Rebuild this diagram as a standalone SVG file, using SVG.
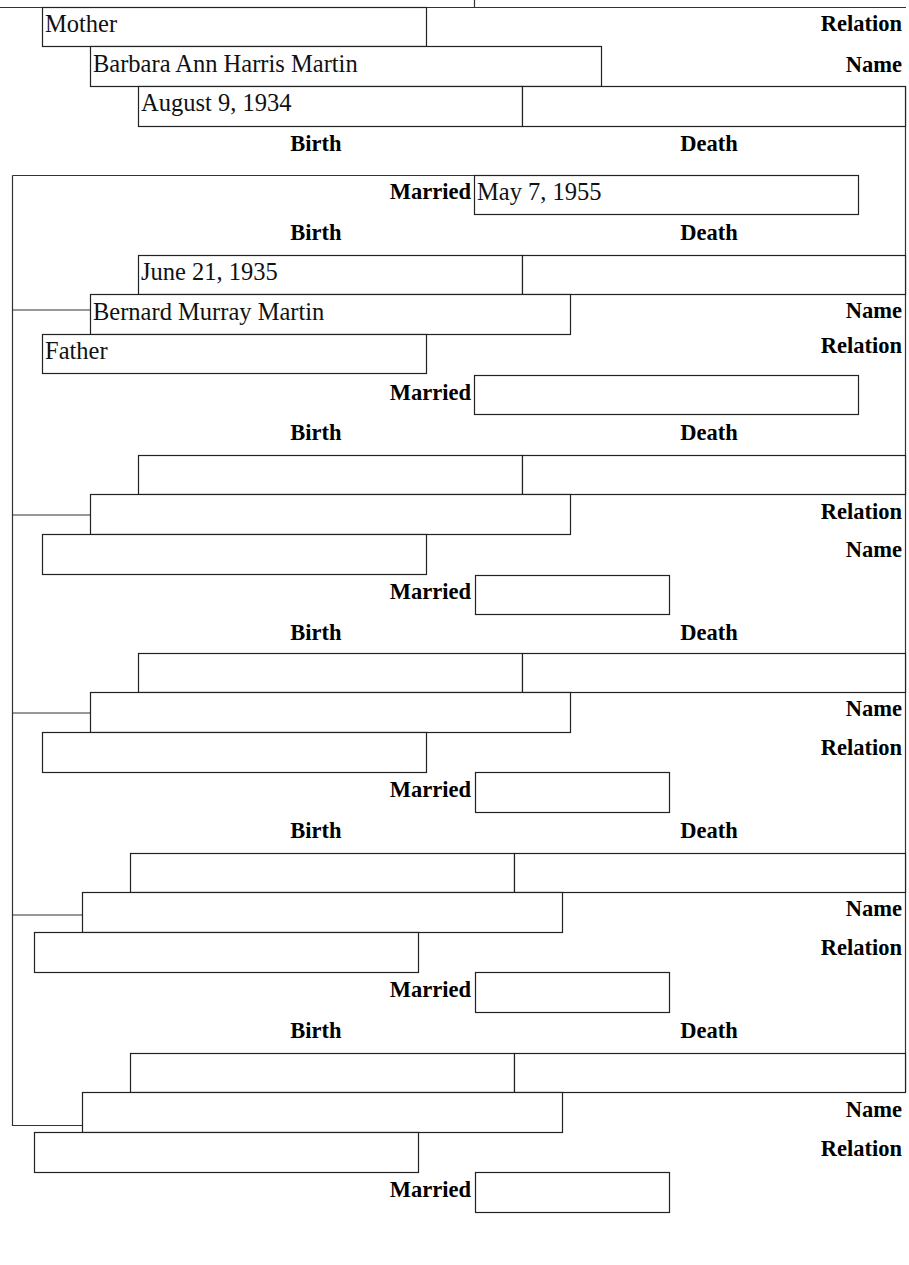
<svg xmlns="http://www.w3.org/2000/svg" width="909" height="1265" viewBox="0 0 909 1265">
<style>
.b{fill:#fff;stroke:#222;stroke-width:1.2}
.c{fill:none;stroke:#333;stroke-width:1.2}
.v{font-family:"Liberation Serif",serif;font-size:24.5px;fill:#111}
.l{font-family:"Liberation Serif",serif;font-size:22.5px;font-weight:bold;fill:#000}
.e{text-anchor:end}
.m{text-anchor:middle}
</style>
<rect width="909" height="1265" fill="#fff"/>
<g id="connectors">
<path class="c" d="M0 7.5H906M474.5 0V7.5"/>
<path class="c" d="M905.5 86V1092"/>
<path class="c" d="M12.5 175.5H474M12.5 175.5V1125.5H82"/>
<path class="c" d="M12.5 310H90M12.5 515H90M12.5 713H90M12.5 915H82"/>
</g>
<g id="mother">
<rect class="b" x="42.5" y="7.5" width="384" height="39"/>
<text class="v" x="45" y="32">Mother</text>
<text class="l e" x="902" y="31">Relation</text>
<rect class="b" x="90.5" y="46.5" width="511" height="40"/>
<text class="v" x="93" y="72">Barbara Ann Harris Martin</text>
<text class="l e" x="902" y="72">Name</text>
<rect class="b" x="138.5" y="86.5" width="384" height="40"/>
<rect class="b" x="522.5" y="86.5" width="383" height="40"/>
<text class="v" x="141" y="111">August 9, 1934</text>
<text class="l m" x="316" y="151">Birth</text>
<text class="l m" x="709" y="151">Death</text>
</g>
<g id="married1">
<rect class="b" x="474.5" y="175.5" width="384" height="39"/>
<text class="l e" x="471" y="199">Married</text>
<text class="v" x="477" y="200">May 7, 1955</text>
</g>
<g id="father">
<text class="l m" x="316" y="240">Birth</text>
<text class="l m" x="709" y="240">Death</text>
<rect class="b" x="138.5" y="255.5" width="384" height="39"/>
<rect class="b" x="522.5" y="255.5" width="383" height="39"/>
<text class="v" x="141" y="280">June 21, 1935</text>
<rect class="b" x="90.5" y="294.5" width="480" height="40"/>
<text class="v" x="93" y="320">Bernard Murray Martin</text>
<text class="l e" x="902" y="318">Name</text>
<rect class="b" x="42.5" y="334.5" width="384" height="39"/>
<text class="v" x="45" y="359">Father</text>
<text class="l e" x="902" y="353">Relation</text>
</g>
<g id="married2">
<rect class="b" x="474.5" y="375.5" width="384" height="39"/>
<text class="l e" x="471" y="400">Married</text>
</g>
<g id="child1">
<text class="l m" x="316" y="440">Birth</text>
<text class="l m" x="709" y="440">Death</text>
<rect class="b" x="138.5" y="455.5" width="384" height="39"/>
<rect class="b" x="522.5" y="455.5" width="383" height="39"/>
<rect class="b" x="90.5" y="494.5" width="480" height="40"/>
<text class="l e" x="902" y="519">Relation</text>
<rect class="b" x="42.5" y="534.5" width="384" height="40"/>
<text class="l e" x="902" y="557">Name</text>
<rect class="b" x="475.5" y="575.5" width="194" height="39"/>
<text class="l e" x="471" y="599">Married</text>
</g>
<g id="child2">
<text class="l m" x="316" y="640">Birth</text>
<text class="l m" x="709" y="640">Death</text>
<rect class="b" x="138.5" y="653.5" width="384" height="39"/>
<rect class="b" x="522.5" y="653.5" width="383" height="39"/>
<rect class="b" x="90.5" y="692.5" width="480" height="40"/>
<text class="l e" x="902" y="716">Name</text>
<rect class="b" x="42.5" y="732.5" width="384" height="40"/>
<text class="l e" x="902" y="755">Relation</text>
<rect class="b" x="475.5" y="772.5" width="194" height="40"/>
<text class="l e" x="471" y="797">Married</text>
</g>
<g id="child3">
<text class="l m" x="316" y="838">Birth</text>
<text class="l m" x="709" y="838">Death</text>
<rect class="b" x="130.5" y="853.5" width="384" height="39"/>
<rect class="b" x="514.5" y="853.5" width="391" height="39"/>
<rect class="b" x="82.5" y="892.5" width="480" height="40"/>
<text class="l e" x="902" y="916">Name</text>
<rect class="b" x="34.5" y="932.5" width="384" height="40"/>
<text class="l e" x="902" y="955">Relation</text>
<rect class="b" x="475.5" y="972.5" width="194" height="40"/>
<text class="l e" x="471" y="997">Married</text>
</g>
<g id="child4">
<text class="l m" x="316" y="1038">Birth</text>
<text class="l m" x="709" y="1038">Death</text>
<rect class="b" x="130.5" y="1053.5" width="384" height="39"/>
<rect class="b" x="514.5" y="1053.5" width="391" height="39"/>
<rect class="b" x="82.5" y="1092.5" width="480" height="40"/>
<text class="l e" x="902" y="1117">Name</text>
<rect class="b" x="34.5" y="1132.5" width="384" height="40"/>
<text class="l e" x="902" y="1156">Relation</text>
<rect class="b" x="475.5" y="1172.5" width="194" height="40"/>
<text class="l e" x="471" y="1197">Married</text>
</g>
</svg>
